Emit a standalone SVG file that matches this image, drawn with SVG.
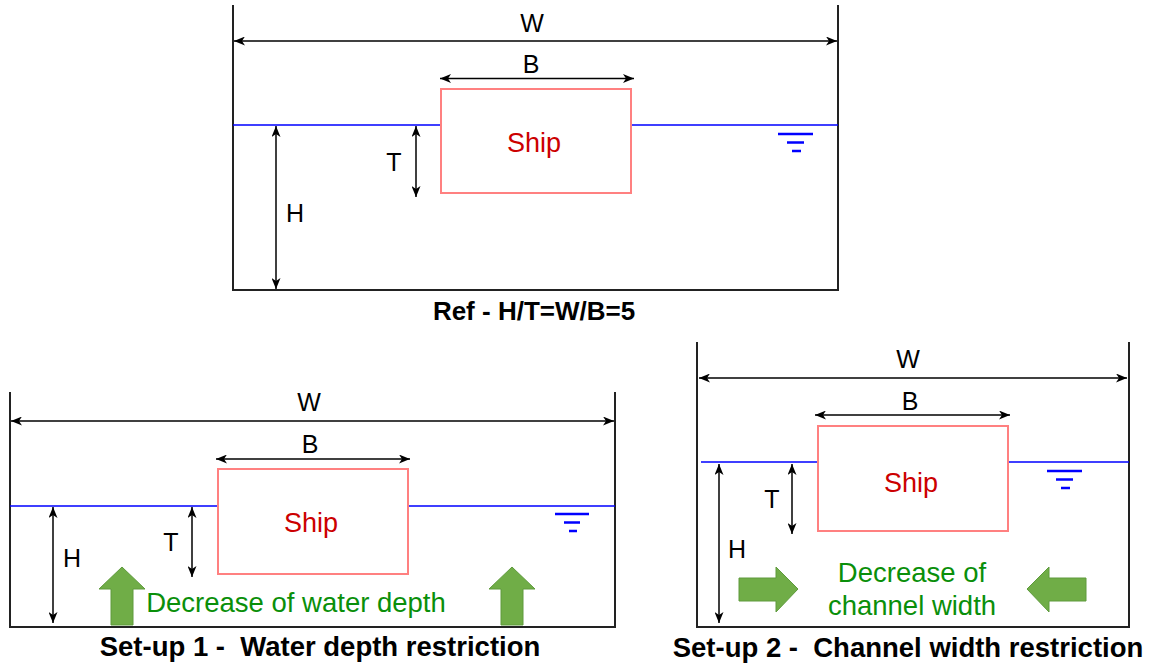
<svg xmlns="http://www.w3.org/2000/svg" width="1156" height="666" viewBox="0 0 1156 666">
<style>
.wall{fill:none;stroke:#222;stroke-width:2}
.dim{stroke:#000;stroke-width:1.5;fill:none;marker-start:url(#ah);marker-end:url(#ah)}
.water{stroke:#0000ff;stroke-width:1.5;fill:none}
.sym{stroke:#0000ff;stroke-width:2.5;fill:none}
.ship{fill:#fff;stroke:#ff8080;stroke-width:2}
.shipt{font-family:"Liberation Sans",Arial,sans-serif;font-size:27px;fill:#cc0000;text-anchor:middle}
.lbl{font-family:"Liberation Sans",Arial,sans-serif;font-size:25px;fill:#000;text-anchor:middle}
.cap{font-family:"Liberation Sans",Arial,sans-serif;font-size:26px;font-weight:bold;fill:#000;text-anchor:middle}
.cap2{font-family:"Liberation Sans",Arial,sans-serif;font-size:27.5px;font-weight:bold;fill:#000;text-anchor:middle}
.gt{font-family:"Liberation Sans",Arial,sans-serif;font-size:27.5px;fill:#0a8f0a;text-anchor:middle}
.ga{fill:#70ad47;stroke:#5e9a3c;stroke-width:1}
</style>
<defs>
<marker id="ah" viewBox="0 0 11 9" refX="11" refY="4.5" markerWidth="11" markerHeight="9" markerUnits="userSpaceOnUse" orient="auto-start-reverse">
<path d="M0,0 L11,4.5 L0,9 L3,4.5 Z" fill="#000"/>
</marker>
</defs>

<g id="ref-setup">
<path class="wall" d="M233,5 V290 H838 V5"/>
<path class="water" d="M233,125 H441 M631,125 H838"/>
<path class="sym" d="M778,134 H813 M787,142.5 H804 M792,151 H801"/>
<g id="ref-ship"><rect class="ship" x="441" y="89" width="190" height="104"/><text class="shipt" x="534" y="152">Ship</text></g>
<text class="lbl" x="532" y="32">W</text>
<text class="lbl" x="531" y="73">B</text>
<text class="lbl" x="295" y="222">H</text>
<text class="lbl" x="394" y="171">T</text>
<text class="cap" x="534" y="320">Ref - H/T=W/B=5</text>
</g>

<g id="setup1">
<path class="wall" d="M10,392 V627 H615 V392"/>
<path class="water" d="M10,506 H218 M408,506 H615"/>
<path class="sym" d="M555,514 H589 M564,522.5 H580 M569,531 H577"/>
<g id="s1-ship"><rect class="ship" x="218" y="469" width="190" height="105"/><text class="shipt" x="311" y="532">Ship</text></g>
<text class="lbl" x="309" y="411">W</text>
<text class="lbl" x="310" y="453">B</text>
<text class="lbl" x="72" y="567">H</text>
<text class="lbl" x="171" y="551">T</text>
<polygon id="s1-arrow-left" class="ga" points="122,567 145,589 133,589 133,625 111,625 111,589 99,589"/>
<polygon id="s1-arrow-right" class="ga" points="512,567 535,589 523,589 523,625 501,625 501,589 489,589"/>
<text class="gt" x="296" y="612">Decrease of water depth</text>
<text class="cap2" x="320" y="656" xml:space="preserve">Set-up 1 -  Water depth restriction</text>
</g>

<g id="setup2">
<path class="wall" d="M697,342 V627 H1129 V342"/>
<path class="water" d="M701,462 H818 M1008,462 H1129"/>
<path class="sym" d="M1047,471 H1082 M1056,479.5 H1073 M1061,488 H1070"/>
<g id="s2-ship"><rect class="ship" x="818" y="426" width="190" height="105"/><text class="shipt" x="911" y="492">Ship</text></g>
<text class="lbl" x="908" y="368">W</text>
<text class="lbl" x="910" y="410">B</text>
<text class="lbl" x="737" y="558">H</text>
<text class="lbl" x="772" y="508">T</text>
<polygon id="s2-arrow-left" class="ga" points="739,578 776,578 776,567 798,589 776,612 776,601 739,601"/>
<polygon id="s2-arrow-right" class="ga" points="1027,589 1049,567 1049,578 1086,578 1086,601 1049,601 1049,612"/>
<text class="gt" x="912" y="582">Decrease of</text>
<text class="gt" x="912" y="615">channel width</text>
<text class="cap2" x="908" y="657" xml:space="preserve">Set-up 2 -  Channel width restriction</text>
</g>

<g id="connectors">
<line class="dim" x1="234" y1="41" x2="837" y2="41"/>
<line class="dim" x1="440" y1="78.5" x2="634" y2="78.5"/>
<line class="dim" x1="276" y1="126" x2="276" y2="289"/>
<line class="dim" x1="416" y1="126" x2="416" y2="197"/>
<line class="dim" x1="11" y1="421" x2="614" y2="421"/>
<line class="dim" x1="216" y1="459" x2="410" y2="459"/>
<line class="dim" x1="53" y1="507" x2="53" y2="623"/>
<line class="dim" x1="192" y1="507" x2="192" y2="577"/>
<line class="dim" x1="699" y1="378" x2="1127" y2="378"/>
<line class="dim" x1="815" y1="415" x2="1010" y2="415"/>
<line class="dim" x1="719" y1="464" x2="719" y2="623"/>
<line class="dim" x1="792" y1="464" x2="792" y2="534"/>
</g>
</svg>
